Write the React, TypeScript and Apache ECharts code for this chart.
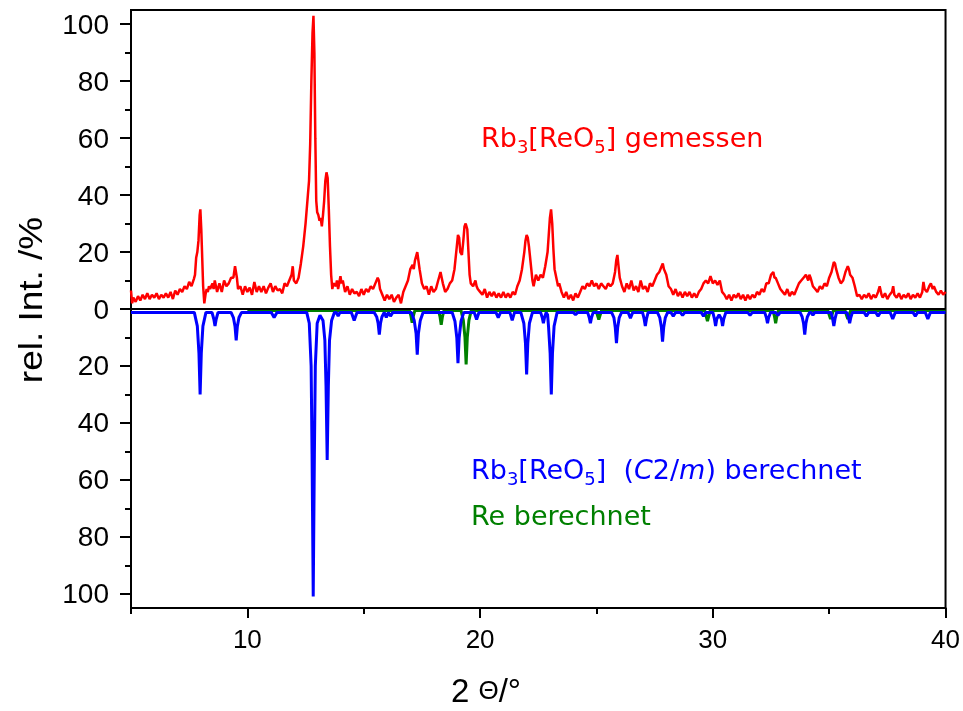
import React, { useEffect, useRef } from "react";
import * as echarts from "echarts";

// 2Θ (°), rel. intensity (%) — measured pattern
const measured: [number, number][] = [
  [5.0, 6.5], [5.05, 2], [5.1, 4], [5.2, 2.5], [5.3, 4.5], [5.4, 3], [5.5, 5], [5.6, 3.5], [5.7, 5.5], [5.8, 3.5],
  [5.9, 5], [6.0, 4], [6.1, 5.5], [6.2, 3.5], [6.3, 5], [6.4, 4], [6.5, 5.5], [6.6, 4], [6.7, 6], [6.8, 3.5],
  [6.9, 6.5], [7.0, 5], [7.1, 7], [7.2, 6], [7.3, 8], [7.4, 7], [7.5, 9.5], [7.6, 8], [7.7, 10.5], [7.75, 12],
  [7.8, 18], [7.85, 20], [7.9, 24], [7.95, 33], [7.98, 35], [8.02, 28], [8.06, 18], [8.1, 8], [8.15, 2], [8.2, 5],
  [8.25, 7], [8.3, 6], [8.35, 8], [8.4, 7], [8.5, 9], [8.55, 7], [8.6, 10], [8.65, 8], [8.7, 6], [8.8, 9],
  [8.9, 6], [9.0, 10], [9.1, 8], [9.2, 9], [9.3, 11], [9.4, 11], [9.47, 15], [9.55, 11], [9.6, 7], [9.7, 8],
  [9.8, 5], [9.9, 8], [10.0, 6], [10.1, 7.5], [10.2, 5], [10.3, 9.5], [10.4, 6], [10.5, 8], [10.6, 6], [10.7, 8],
  [10.8, 5.5], [10.9, 7.5], [11.0, 9], [11.1, 6], [11.2, 8], [11.3, 6.5], [11.4, 7], [11.5, 5.5], [11.6, 9], [11.7, 8],
  [11.8, 10], [11.9, 12], [11.95, 15], [12.0, 10], [12.1, 9], [12.2, 11], [12.3, 16], [12.4, 22], [12.5, 30], [12.6, 40],
  [12.65, 45], [12.7, 58], [12.75, 80], [12.8, 97], [12.84, 103], [12.88, 90], [12.92, 60], [12.96, 38], [13.0, 34], [13.05, 33],
  [13.1, 31], [13.15, 32], [13.2, 29], [13.25, 33], [13.3, 38], [13.35, 45], [13.4, 48], [13.45, 46], [13.5, 35], [13.55, 22],
  [13.6, 12], [13.65, 7], [13.7, 9], [13.8, 8], [13.85, 10], [13.9, 7], [14.0, 11.5], [14.05, 9], [14.1, 10], [14.2, 6],
  [14.3, 8], [14.4, 5], [14.5, 7], [14.6, 5.5], [14.7, 6], [14.8, 4.5], [14.9, 7], [15.0, 5], [15.1, 7], [15.2, 6],
  [15.3, 8], [15.4, 7], [15.5, 9], [15.6, 11], [15.65, 10], [15.7, 7], [15.8, 5], [15.9, 3], [16.0, 5], [16.1, 3.5],
  [16.2, 5], [16.3, 2.5], [16.4, 4], [16.5, 5], [16.6, 2], [16.7, 6], [16.8, 8], [16.9, 10], [17.0, 14], [17.1, 15.5],
  [17.15, 14], [17.2, 17], [17.3, 20], [17.35, 17], [17.4, 14], [17.5, 9], [17.6, 7], [17.7, 8], [17.8, 5], [17.9, 8],
  [18.0, 6], [18.1, 7], [18.2, 10], [18.3, 13], [18.35, 11], [18.4, 9], [18.5, 6], [18.6, 7], [18.7, 9], [18.8, 10],
  [18.9, 14], [19.0, 22], [19.05, 26], [19.1, 25], [19.15, 20], [19.22, 19], [19.28, 24], [19.33, 29], [19.38, 30], [19.45, 28],
  [19.5, 20], [19.55, 12], [19.6, 9], [19.7, 8], [19.8, 10], [19.85, 8], [19.9, 7], [20.0, 6], [20.1, 5], [20.2, 7],
  [20.3, 4], [20.4, 6], [20.5, 4.5], [20.6, 6], [20.7, 4], [20.8, 5.5], [20.9, 4], [21.0, 6], [21.1, 4], [21.2, 5.5],
  [21.3, 4], [21.4, 6], [21.5, 5], [21.6, 8], [21.7, 10], [21.8, 14], [21.9, 20], [21.95, 24], [22.0, 26], [22.05, 25],
  [22.1, 22], [22.2, 14], [22.25, 10], [22.3, 8], [22.4, 12], [22.5, 10], [22.6, 12], [22.7, 11], [22.8, 15], [22.9, 20],
  [22.95, 26], [23.0, 32], [23.05, 35], [23.1, 30], [23.15, 21], [23.2, 14], [23.3, 10], [23.35, 8], [23.4, 9], [23.5, 6],
  [23.6, 4], [23.7, 6], [23.8, 3.5], [23.9, 5], [24.0, 3], [24.1, 5.5], [24.2, 4], [24.3, 6], [24.4, 8], [24.5, 7],
  [24.6, 9], [24.7, 8], [24.8, 10], [24.9, 8], [25.0, 9], [25.1, 7], [25.2, 9], [25.3, 8], [25.4, 7], [25.5, 9],
  [25.6, 8], [25.7, 9], [25.8, 13], [25.85, 17], [25.9, 19], [25.95, 15], [26.0, 11], [26.1, 8], [26.2, 6], [26.3, 9],
  [26.4, 7], [26.5, 10], [26.6, 6.5], [26.7, 8], [26.8, 6], [26.9, 10], [27.0, 7], [27.1, 8], [27.2, 6], [27.3, 9],
  [27.4, 8], [27.5, 10], [27.6, 12], [27.7, 13], [27.8, 15], [27.85, 16], [27.9, 14], [28.0, 12], [28.1, 8], [28.2, 7],
  [28.3, 5], [28.4, 7], [28.5, 4.5], [28.6, 6], [28.7, 4], [28.8, 6], [28.9, 4.5], [29.0, 6], [29.1, 4], [29.2, 5.5],
  [29.3, 4], [29.4, 6], [29.5, 7], [29.6, 9], [29.7, 10], [29.8, 9], [29.9, 11.5], [30.0, 9], [30.1, 10], [30.2, 8.5],
  [30.3, 10], [30.4, 6], [30.5, 5], [30.6, 3.5], [30.7, 5], [30.8, 3], [30.9, 5], [31.0, 4], [31.1, 5.5], [31.2, 3.5],
  [31.3, 5], [31.4, 3], [31.5, 5], [31.6, 3.5], [31.7, 5], [31.8, 4], [31.9, 6], [32.0, 5], [32.1, 7], [32.2, 6],
  [32.3, 9], [32.4, 9], [32.5, 12], [32.6, 13], [32.65, 11], [32.7, 11], [32.8, 9], [32.9, 7], [33.0, 6], [33.1, 5],
  [33.2, 7], [33.3, 4.5], [33.4, 6], [33.5, 5], [33.6, 7], [33.7, 9], [33.8, 10], [33.9, 11], [34.0, 12], [34.1, 10],
  [34.15, 12], [34.2, 11], [34.3, 8], [34.4, 7], [34.5, 6], [34.6, 8], [34.7, 7], [34.8, 9], [34.9, 8], [35.0, 11],
  [35.1, 13], [35.2, 16.5], [35.25, 16], [35.3, 14], [35.4, 11], [35.5, 9], [35.6, 10], [35.7, 13], [35.8, 15], [35.85, 14],
  [35.9, 12], [36.0, 11], [36.1, 8], [36.2, 4.5], [36.3, 5], [36.4, 3.5], [36.5, 5], [36.6, 4], [36.7, 5.5], [36.8, 3.5],
  [36.9, 5], [37.0, 4], [37.1, 6], [37.17, 8], [37.25, 5], [37.3, 4], [37.4, 5.5], [37.5, 3.5], [37.6, 5], [37.7, 6],
  [37.75, 8], [37.8, 5], [37.9, 4], [38.0, 5.5], [38.1, 3.5], [38.2, 5], [38.3, 4], [38.4, 5.5], [38.5, 3.5], [38.6, 5],
  [38.7, 4], [38.8, 5.5], [38.9, 4], [39.0, 6], [39.05, 9.5], [39.1, 7], [39.2, 6], [39.3, 8], [39.37, 9], [39.45, 7],
  [39.5, 8], [39.6, 6], [39.7, 5], [39.8, 6.5], [39.9, 5], [40.0, 6],
];

// calculated Rb3[ReO5] (C2/m), plotted downwards
const calcPhase: [number, number][] = [
  [5, -1.2],
  [7.72, -1.2], [7.85, -6], [7.92, -15.6], [7.97, -30], [8.02, -15.6], [8.09, -6], [8.22, -1.2],
  [8.48, -1.2], [8.56, -3.6], [8.61, -6], [8.66, -3.6], [8.74, -1.2],
  [9.3, -1.2], [9.4, -3], [9.47, -6.1], [9.52, -11], [9.57, -6.1], [9.64, -3], [9.75, -1.2],
  [11.03, -1.2], [11.15, -3], [11.27, -1.2],
  [12.55, -1.2], [12.66, -5], [12.74, -20], [12.78, -51], [12.83, -101], [12.88, -51], [12.92, -20], [13.0, -5], [13.12, -2.2],
  [13.25, -4], [13.33, -11], [13.38, -27], [13.43, -53], [13.48, -27], [13.53, -11], [13.62, -4], [13.74, -1.2],
  [13.82, -1.2], [13.9, -2.5], [13.98, -1.2],
  [14.47, -1.2], [14.59, -4], [14.71, -1.2],
  [15.45, -1.2], [15.56, -2.8], [15.62, -5.1], [15.67, -9], [15.72, -5.1], [15.78, -2.8], [15.88, -1.2],
  [15.97, -3], [16.06, -1.2], [16.15, -2.5], [16.25, -1.2],
  [17.05, -1.2], [17.17, -4], [17.25, -8.6], [17.3, -16], [17.35, -8.6], [17.43, -4], [17.55, -1.2],
  [18.8, -1.2], [18.92, -4.3], [19.0, -10.1], [19.05, -19], [19.1, -10.1], [19.18, -4.3], [19.3, -1.2],
  [19.75, -1.2], [19.85, -3.7], [19.95, -1.2],
  [20.68, -1.2], [20.78, -3], [20.88, -1.2],
  [21.28, -1.2], [21.38, -4], [21.48, -1.2],
  [21.75, -1.2], [21.88, -5], [21.95, -12.1], [22.0, -23], [22.05, -12.1], [22.12, -5], [22.25, -1.2],
  [22.6, -1.2], [22.67, -3], [22.72, -5], [22.77, -3], [22.84, -1.2],
  [22.9, -2], [22.94, -6], [23.01, -15.6], [23.06, -30], [23.11, -15.6], [23.18, -6], [23.31, -1.2],
  [24.0, -1.2], [24.1, -2], [24.2, -1.2],
  [24.62, -1.2], [24.69, -3], [24.74, -5], [24.79, -3], [24.86, -1.2],
  [25.65, -1.2], [25.75, -3], [25.81, -6.6], [25.86, -12], [25.91, -6.6], [25.98, -3], [26.08, -1.2],
  [26.36, -1.2], [26.46, -3.2], [26.56, -1.2],
  [26.98, -1.2], [27.05, -3.5], [27.1, -6], [27.15, -3.5], [27.22, -1.2],
  [27.62, -1.2], [27.72, -3], [27.79, -6.4], [27.84, -11.5], [27.89, -6.4], [27.96, -3], [28.06, -1.2],
  [28.2, -1.2], [28.3, -2.5], [28.4, -1.2],
  [28.6, -1.2], [28.7, -2.2], [28.8, -1.2],
  [29.5, -1.2], [29.6, -2.5], [29.7, -1.2],
  [30.0, -1.2], [30.07, -3.5], [30.12, -6], [30.17, -3.5], [30.27, -2], [30.37, -3.5], [30.42, -6], [30.47, -3.5], [30.56, -1.2],
  [31.5, -1.2], [31.6, -2.2], [31.7, -1.2],
  [32.23, -1.2], [32.3, -3], [32.35, -5], [32.4, -3], [32.48, -1.2],
  [32.7, -1.2], [32.8, -2.2], [32.9, -1.2],
  [33.75, -1.2], [33.84, -2.8], [33.9, -5.1], [33.95, -9], [34.0, -5.1], [34.06, -2.8], [34.16, -1.2],
  [34.22, -1.2], [34.3, -2.2], [34.38, -1.2],
  [35.08, -1.2], [35.15, -3.5], [35.2, -6], [35.25, -3.5], [35.32, -1.2],
  [35.76, -1.2], [35.83, -3], [35.88, -5], [35.93, -3], [36.0, -1.2],
  [36.5, -1.2], [36.6, -2.5], [36.7, -1.2],
  [37.0, -1.2], [37.1, -2.5], [37.2, -1.2],
  [37.62, -1.2], [37.73, -3.5], [37.84, -1.2],
  [38.6, -1.2], [38.7, -2.5], [38.8, -1.2],
  [39.13, -1.2], [39.24, -3.5], [39.35, -1.2],
  [40, -1.2],
];

// calculated Re, plotted downwards
const calcRe: [number, number][] = [
  [10, -0.5],
  [16.96, -0.5], [17.03, -2.5], [17.08, -4.8], [17.13, -2.5], [17.2, -0.5],
  [18.21, -0.5], [18.28, -2.8], [18.33, -5.5], [18.38, -2.8], [18.45, -0.5],
  [19.18, -0.5], [19.28, -4], [19.35, -10], [19.4, -19.5], [19.45, -10], [19.52, -4], [19.62, -0.5],
  [24.98, -0.5], [25.1, -3.7], [25.22, -0.5],
  [29.65, -0.5], [29.77, -4.3], [29.89, -0.5],
  [32.58, -0.5], [32.65, -2.6], [32.7, -5], [32.75, -2.6], [32.82, -0.5],
  [34.94, -0.5], [35.06, -3.5], [35.18, -0.5],
  [35.68, -0.5], [35.8, -3.5], [35.92, -0.5],
  [40, -0.5],
];

const xMajorTicks = [10, 20, 30, 40];
const xMinorTicks = [5, 15, 25, 35];
const yMajorTicks = [-100, -80, -60, -40, -20, 0, 20, 40, 60, 80, 100];
const yMinorTicks = [-90, -70, -50, -30, -10, 10, 30, 50, 70, 90];

const RED = "#ff0000";
const BLUE = "#0000ff";
const GREEN = "#008000";
const AX_FONT = "Liberation Sans";
const ANN_FONT = "DejaVu Sans";

function buildOption(): echarts.EChartsOption {
  const axisLineStyle = { color: "#000", width: 2 };
  const n = (fill: string) => ({ fontSize: 27, fontFamily: ANN_FONT, fill, lineHeight: 36 });
  const s = (fill: string) => ({ fontSize: 18, fontFamily: ANN_FONT, fill, lineHeight: 6, verticalAlign: "bottom" });
  const it = (fill: string) => ({ fontSize: 27, fontFamily: ANN_FONT, fill, lineHeight: 36, fontStyle: "italic" });
  return {
    animation: false,
    grid: { left: 131, right: 17, top: 10, bottom: 103, show: true, borderColor: "#000", borderWidth: 2, backgroundColor: "transparent" },
    xAxis: [
      {
        type: "value", min: 5, max: 40, position: "bottom",
        axisLine: { onZero: false, lineStyle: axisLineStyle },
        axisTick: { customValues: xMajorTicks, length: 10, lineStyle: { color: "#000", width: 2 } },
        axisLabel: { customValues: xMajorTicks, fontSize: 26, color: "#000", fontFamily: AX_FONT, margin: 18 },
        splitLine: { show: false },
      },
      {
        type: "value", min: 5, max: 40, position: "bottom",
        axisLine: { show: false, onZero: false },
        axisTick: { customValues: xMinorTicks, length: 6, lineStyle: { color: "#000", width: 2 } },
        axisLabel: { show: false },
        splitLine: { show: false },
      },
    ],
    yAxis: [
      {
        type: "value", min: -105, max: 105, position: "left",
        axisLine: { onZero: false, lineStyle: axisLineStyle },
        axisTick: { customValues: yMajorTicks, length: 11, lineStyle: { color: "#000", width: 2 } },
        axisLabel: {
          customValues: yMajorTicks, fontSize: 28, color: "#000", fontFamily: AX_FONT, margin: 22,
          formatter: (v: number) => String(Math.abs(v)),
        },
        splitLine: { show: false },
      },
      {
        type: "value", min: -105, max: 105, position: "left",
        axisLine: { show: false, onZero: false },
        axisTick: { customValues: yMinorTicks, length: 6, lineStyle: { color: "#000", width: 2 } },
        axisLabel: { show: false },
        splitLine: { show: false },
      },
    ],
    series: [
      {
        type: "line", name: "gemessen", data: measured, showSymbol: false, symbol: "none",
        lineStyle: { color: RED, width: 2.5 }, xAxisIndex: 0, yAxisIndex: 0,
      },
      {
        type: "line", name: "Re", data: calcRe, showSymbol: false, symbol: "none",
        lineStyle: { color: GREEN, width: 3 }, xAxisIndex: 0, yAxisIndex: 0,
      },
      {
        type: "line", name: "Rb3[ReO5]", data: calcPhase, showSymbol: false, symbol: "none",
        lineStyle: { color: BLUE, width: 3 }, xAxisIndex: 0, yAxisIndex: 0,
        markLine: {
          silent: true, symbol: ["none", "none"], label: { show: false },
          lineStyle: { color: "#000", width: 2, type: "solid" },
          data: [{ yAxis: 0 }],
        },
      },
    ],
    graphic: [
      {
        type: "text", x: 30, y: 300, rotation: Math.PI / 2, scaleX: 1.12,
        style: { text: "rel. Int. /%", fontSize: 33, fontFamily: AX_FONT, fill: "#000", align: "center", verticalAlign: "middle" },
      },
      {
        type: "text", x: 486, y: 690,
        style: {
          text: "{a|2 }{b|Θ}{a|/°}",
          rich: {
            a: { fontSize: 33, fontFamily: AX_FONT, fill: "#000", lineHeight: 36 },
            b: { fontSize: 26, fontFamily: AX_FONT, fill: "#000", lineHeight: 36 },
          } as any,
          align: "center", verticalAlign: "middle",
        },
      },
      {
        type: "text", x: 481, y: 119,
        style: {
          text: "{n|Rb}{s|3}{n|[ReO}{s|5}{n|] gemessen}",
          rich: { n: n(RED), s: s(RED) } as any, verticalAlign: "top", align: "left",
        },
      },
      {
        type: "text", x: 471, y: 451,
        style: {
          text: "{n|Rb}{s|3}{n|[ReO}{s|5}{n|] \u00a0(}{i|C}{n|2/}{i|m}{n|) berechnet}",
          rich: { n: n(BLUE), s: s(BLUE), i: it(BLUE) } as any, verticalAlign: "top", align: "left",
        },
      },
      {
        type: "text", x: 471, y: 497,
        style: {
          text: "{n|Re berechnet}",
          rich: { n: n(GREEN) } as any, verticalAlign: "top", align: "left",
        },
      },
    ],
  } as any;
}

export default function App() {
  const ref = useRef<HTMLDivElement>(null);
  useEffect(() => {
    if (!ref.current) return;
    const chart = echarts.init(ref.current, null, { renderer: "svg" });
    chart.setOption(buildOption());
    return () => chart.dispose();
  }, []);
  return <div ref={ref} style={{ position: "fixed", left: 0, top: 0, width: 963, height: 711 }} />;
}
